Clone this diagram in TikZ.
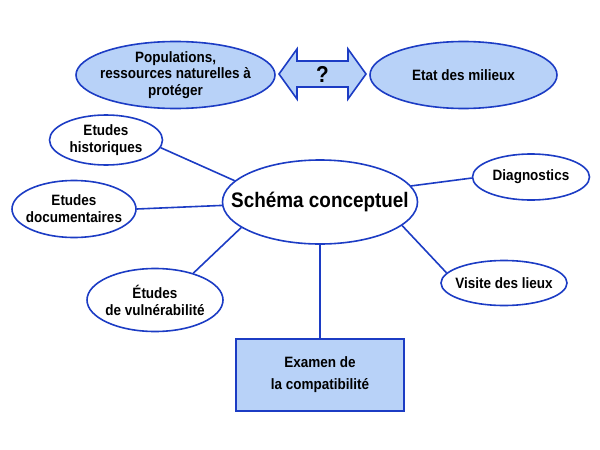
\documentclass[tikz,border=0pt]{standalone}
\usepackage{fontspec}
\setmainfont{Liberation Sans}[FakeStretch=0.9]
\usepackage{tikz}
\usetikzlibrary{shapes.geometric}
\definecolor{bordblue}{RGB}{28,60,196}
\definecolor{fillblue}{RGB}{184,210,248}

\begin{document}
\begin{tikzpicture}[
    x=1pt, y=-1pt,
    every node/.style={font=\bfseries\fontsize{15}{17}\selectfont, align=center, text=black},
    oval/.style={draw=bordblue, line width=1.6pt, ellipse, inner sep=0pt},
    topoval/.style={oval, fill=fillblue},
    link/.style={draw=bordblue, line width=1.6pt}
]
    \useasboundingbox (0,0) rectangle (600,450);
    % top row
    \node[topoval, minimum width=199, minimum height=67,
        label={[font=\bfseries\fontsize{15}{16.5}\selectfont]center:{Populations,\\ressources naturelles à\\protéger}}] (pop) at (175.5,75) {};
    \node[topoval, minimum width=187, minimum height=67, label={center:Etat des milieux}] (etat) at (463.5,75) {};
    \draw[link, fill=fillblue] (279,74) -- (297,49) -- (297,61) -- (348,61) -- (348,49) -- (366,74)
        -- (348,99) -- (348,87) -- (297,87) -- (297,99) -- cycle;
    \node[font=\bfseries\fontsize{23}{25}\selectfont] (q) at (322.5,74) {?};
    % centre
    \node[oval, minimum width=195, minimum height=84,
        label={[font=\bfseries\fontsize{21}{24}\selectfont]center:Schéma conceptuel}] (schema) at (320,202) {};
    \node[oval, minimum width=113, minimum height=50, label={center:{Etudes\\historiques}}] (hist) at (106,140) {};
    \node[oval, minimum width=124, minimum height=57, label={center:{Etudes\\documentaires}}] (doc) at (74,209) {};
    \node[oval, minimum width=136, minimum height=63, label={center:{Études\\de vulnérabilité}}] (vul) at (155,300) {};
    \node[oval, minimum width=117, minimum height=46, label={center:Diagnostics}] (diag) at (531,177) {};
    \node[oval, minimum width=126, minimum height=45, label={center:Visite des lieux}] (visite) at (504,283) {};
    \node[draw=bordblue, line width=1.6pt, fill=fillblue, minimum width=168, minimum height=72,
        font=\bfseries\fontsize{15}{22}\selectfont] (examen) at (320,375) {Examen de\\la compatibilité};
    % liens
    \draw[link] (hist.-8) -- (schema.166);
    \draw[link] (doc.east) -- (schema.182);
    \draw[link] (vul.35) -- (schema.198);
    \draw[link] (diag.181) -- (schema.10);
    \draw[link] (visite.170) -- (schema.-16);
    \draw[link] (schema.south) -- (examen.north);
\end{tikzpicture}
\end{document}
